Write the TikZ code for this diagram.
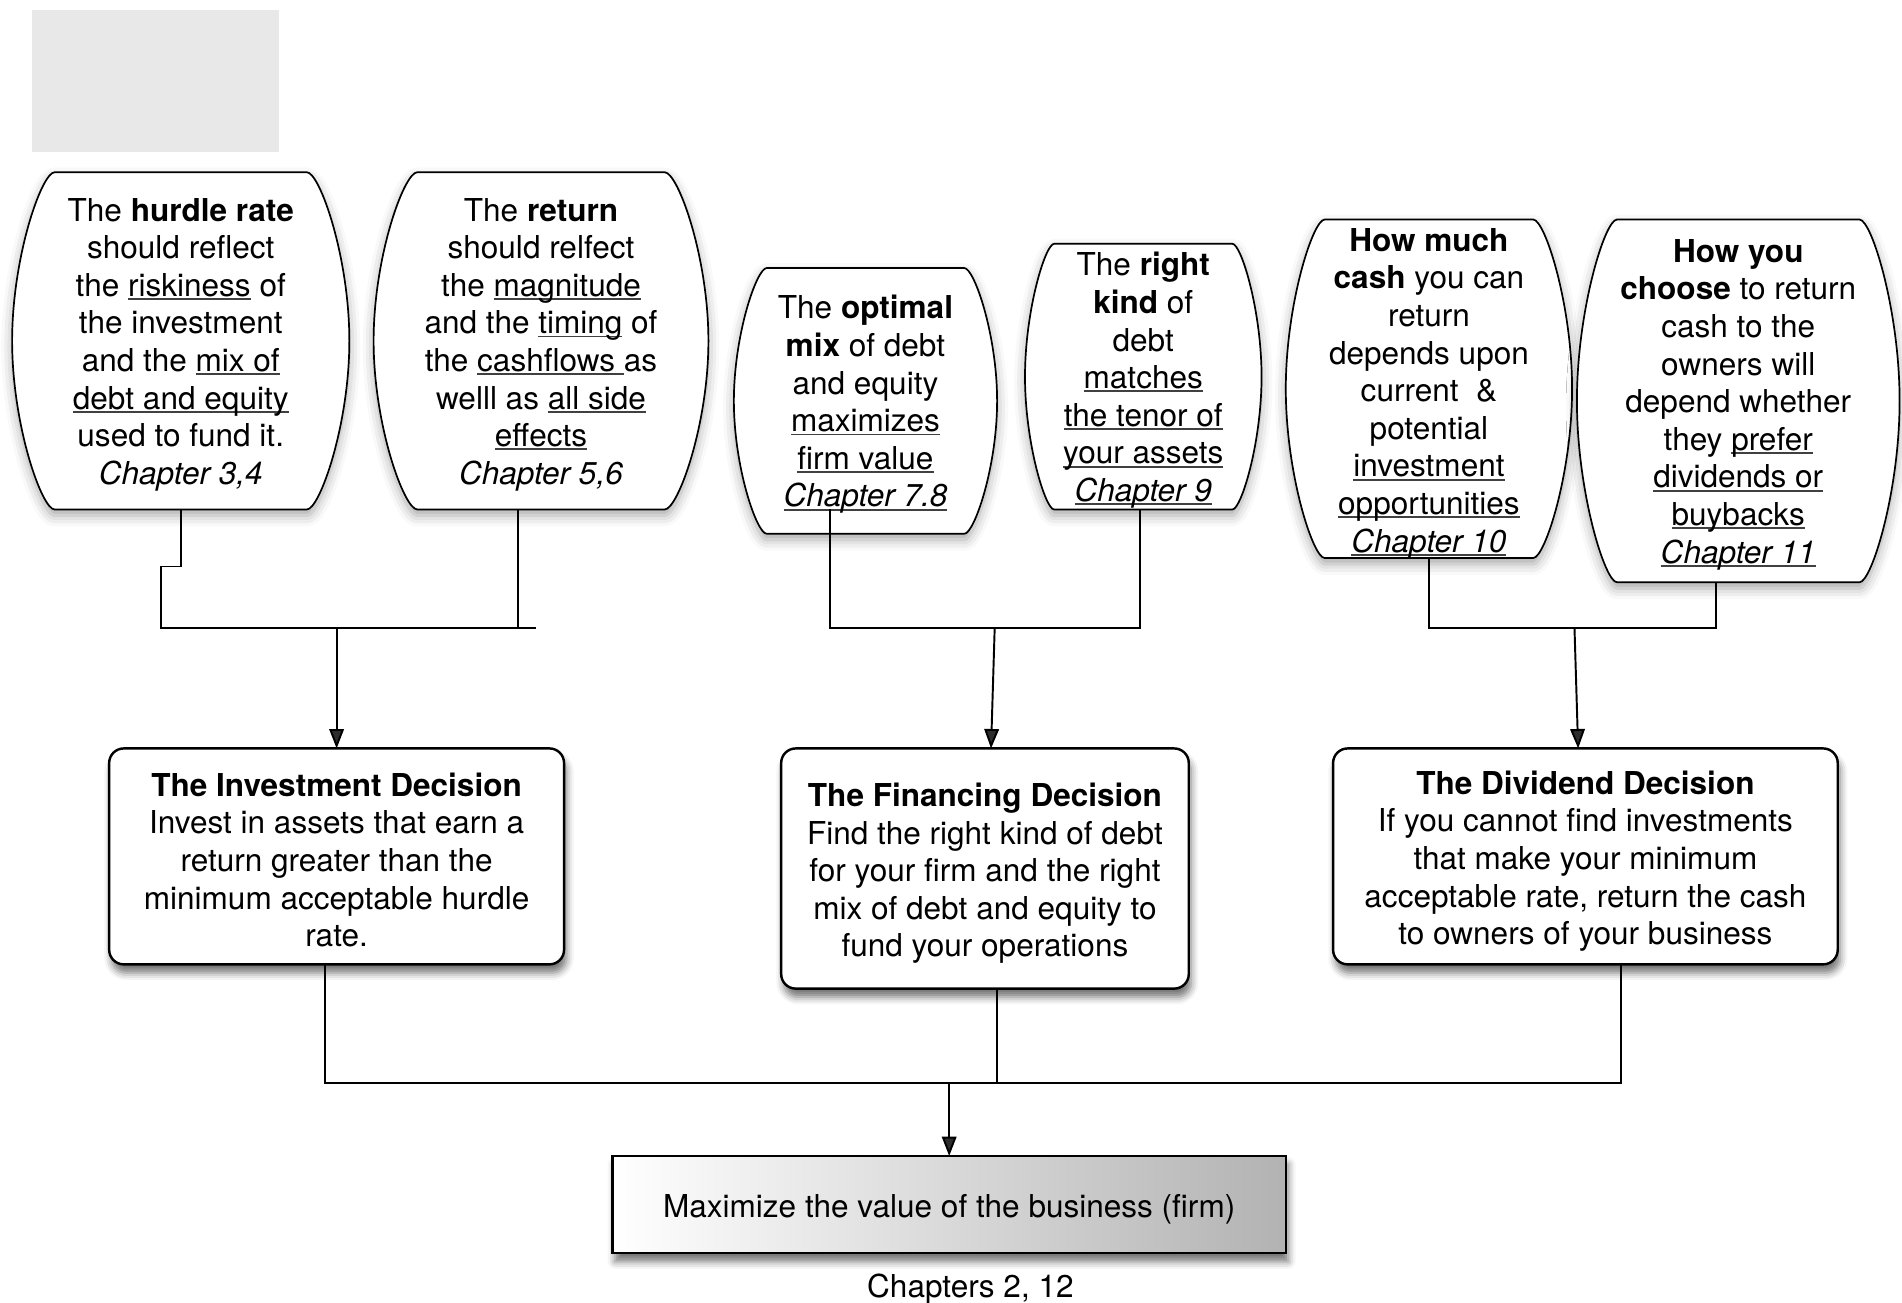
\documentclass[tikz,border=0pt]{standalone}
\usepackage{fontspec}
\setmainfont{TeX Gyre Heros}
\usetikzlibrary{arrows.meta,shadows.blur,calc}
\newsavebox\ulbox
\newcommand\ul[1]{\sbox\ulbox{#1}\rlap{\color{black!75}\rule[-3pt]{\wd\ulbox}{1.5pt}}\usebox\ulbox}
\newcommand\barrel[2]{%
\path[barrelline] let \p1=(#1.north east), \p2=(#1.south west), \n1={(\y1-\y2)/2} in
 (\x2+#2pt,\y1) -- (\x1-#2pt,\y1)
 .. controls (\x1-0.7*#2pt,\y1) and (\x1,\y1-0.5*\n1) .. (\x1,\y1-\n1)
 .. controls (\x1,\y2+0.5*\n1) and (\x1-0.7*#2pt,\y2) .. (\x1-#2pt,\y2)
 -- (\x2+#2pt,\y2)
 .. controls (\x2+0.7*#2pt,\y2) and (\x2,\y2+0.5*\n1) .. (\x2,\y2+\n1)
 .. controls (\x2,\y1-0.5*\n1) and (\x2+0.7*#2pt,\y1) .. cycle;}
\begin{document}
\begin{tikzpicture}[x=1pt,y=1pt,
  txt/.style={align=center, font=\fontsize{26}{31}\selectfont, inner sep=0pt},
  frame/.style={inner sep=0pt, outer sep=0pt},
  barrelline/.style={draw, line width=1.4pt, fill=white,
    blur shadow={shadow xshift=0pt, shadow yshift=-5pt, shadow blur radius=9pt, shadow opacity=35}},
  decbox/.style={frame, draw, line width=2pt, rounded corners=12pt, fill=white,
    blur shadow={shadow xshift=2pt, shadow yshift=-7pt, shadow blur radius=6pt, shadow opacity=55}},
  maxbox/.style={frame, draw, line width=2pt, left color=white, right color=black!30,
    blur shadow={shadow xshift=2pt, shadow yshift=-7pt, shadow blur radius=6pt, shadow opacity=55}},
  conn/.style={line width=1.6pt},
  arr/.style={conn, -{Triangle[length=16pt,width=12pt]}}]
\useasboundingbox (0,0) rectangle (1568,-1074);
\node[fill=black!9, minimum width=204pt, minimum height=117pt, inner sep=0pt] (logo) at (128,-66.5) {};

% barrel frames
\node[frame, minimum width=278pt, minimum height=278pt] (b1) at (149,-281) {};
\node[frame, minimum width=276pt, minimum height=278pt] (b2) at (446,-281) {};
\node[frame, minimum width=217pt, minimum height=219pt] (b3) at (713.5,-330.5) {};
\node[frame, minimum width=195pt, minimum height=219pt] (b4) at (942.5,-310.5) {};
\node[frame, minimum width=236pt, minimum height=279pt] (b5) at (1178,-320.5) {};
\node[frame, minimum width=266pt, minimum height=299pt] (b6) at (1433,-330.5) {};
\barrel{b1}{35}
\barrel{b2}{36}
\barrel{b3}{27}
\barrel{b4}{24}
\barrel{b5}{32}
\barrel{b6}{33}

% barrel texts
\node[txt] (b1t) at ([yshift=-3pt]b1.center)
 {The \textbf{hurdle rate}\\should reflect\\the \ul{riskiness} of\\the investment\\and the \ul{mix of}\\\ul{debt and equity}\\used to fund it.\\\textit{Chapter 3,4}};
\node[txt] (b2t) at ([yshift=-3pt]b2.center)
 {The \textbf{return}\\should relfect\\the \ul{magnitude}\\and the \ul{timing} of\\the \ul{cashflows\ }as\\welll as \ul{all side}\\\ul{effects}\\\textit{Chapter 5,6}};
\node[txt] (b3t) at ([yshift=-3pt]b3.center)
 {The \textbf{optimal}\\\textbf{mix} of debt\\and equity\\\ul{maximizes}\\\ul{firm value}\\\ul{\textit{Chapter 7.8}}};
\node[txt] (b4t) at ([yshift=-3pt]b4.center)
 {The \textbf{right}\\\textbf{kind} of\\debt\\\ul{matches}\\\ul{the tenor of}\\\ul{your assets}\\\ul{\textit{Chapter 9}}};
\node[txt] (b5t) at ([yshift=-4pt]b5.center)
 {\textbf{How much}\\\textbf{cash} you can\\return\\depends upon\\current\ \ \&\\potential\\\ul{investment}\\\ul{opportunities}\\\ul{\textit{Chapter 10}}};
\node[txt] (b6t) at ([yshift=-3pt]b6.center)
 {\textbf{How you}\\\textbf{choose} to return\\cash to the\\owners will\\depend whether\\they \ul{prefer}\\\ul{dividends or}\\\ul{buybacks}\\\ul{\textit{Chapter 11}}};

% decision boxes
\node[decbox, minimum width=375pt, minimum height=178pt] (inv) at (277.5,-706) {};
\node[decbox, minimum width=336pt, minimum height=198pt] (fin) at (812,-716) {};
\node[decbox, minimum width=416pt, minimum height=178pt] (div) at (1307,-706) {};
\node[maxbox, minimum width=555pt, minimum height=80pt] (max) at (782.5,-993) {};
\node[txt] (invt) at ([yshift=-3pt]inv.center)
 {\textbf{The Investment Decision}\\Invest in assets that earn a\\return greater than the\\minimum acceptable hurdle\\rate.};
\node[txt] (fint) at ([yshift=-4pt]fin.center)
 {\textbf{The Financing Decision}\\Find the right kind of debt\\for your firm and the right\\mix of debt and equity to\\fund your operations};
\node[txt] (divt) at ([yshift=-4pt]div.center)
 {\textbf{The Dividend Decision}\\If you cannot find investments\\that make your minimum\\acceptable rate, return the cash\\to owners of your business};
\node[txt] (maxt) at ([yshift=-4pt]max.center) {Maximize the value of the business (firm)};
\node[txt] (chap) at (800,-1063) {Chapters 2, 12};

% group 1
\coordinate (h1l) at (133,-518);
\coordinate (h1r) at (442,-518);
\coordinate (j1) at (277,-518);
\draw[conn] (b1.south) -- ++(0,-47) -| (h1l) -- (h1r);
\draw[conn] ([xshift=-19pt]b2.south) -- ([xshift=-19pt]b2.south |- h1r);
\draw[arr] (inv.north |- j1) -- (inv.north);
% group 2
\coordinate (h2r) at (940,-518);
\coordinate (j2) at (820,-518);
\draw[conn] ([xshift=-29.5pt,yshift=20pt]b3.south) |- (h2r) -- (h2r |- b4.south);
\draw[arr] (j2) -- ([xshift=5pt]fin.north);
% group 3
\coordinate (h3r) at (1415,-518);
\coordinate (j3) at (1298,-518);
\draw[conn] (b5.south) |- (h3r) -- (h3r |- b6.south);
\draw[arr] (j3) -- ([xshift=-6pt]div.north);
% bottom
\coordinate (h4l) at (268,-893);
\coordinate (h4r) at (1336,-893);
\draw[conn] (h4l |- inv.south) -- (h4l) -- (h4r) -- (h4r |- div.south);
\draw[conn] ([xshift=10pt]fin.south) -- ([xshift=10pt]fin.south |- h4l);
\draw[arr] (max.north |- h4l) -- (max.north);
\end{tikzpicture}
\end{document}
